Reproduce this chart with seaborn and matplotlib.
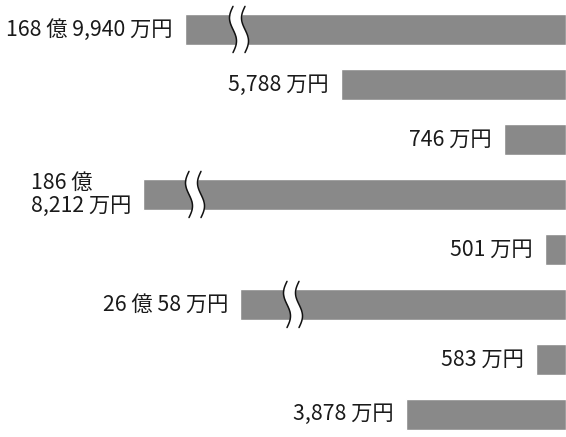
import numpy as np
import pandas as pd
import seaborn as sns
import matplotlib.pyplot as plt

# labels shown next to each bar (the bars are not drawn to scale)
labels = ["168 億 9,940 万円", "5,788 万円", "746 万円", "186 億\n8,212 万円",
          "501 万円", "26 億 58 万円", "583 万円", "3,878 万円"]
# drawn bar lengths (pixels, growing leftwards)
lengths = [381, 225, 62, 423, 21, 326, 30, 160]
# bars with a break mark: index and distance of the mark from the right end
breaks = [(0, 327), (3, 371), (5, 273)]

sns.set_theme(style="white")
plt.rcParams['font.family'] = ['Noto Sans CJK JP', 'DejaVu Sans']

df = pd.DataFrame({"label": labels, "length": lengths})
df["pos"] = range(len(df))

fig = plt.figure(figsize=(5.66, 4.37), dpi=100)
ax = fig.add_axes([0, 0, 1, 1])

sns.barplot(data=df, x="length", y="pos", orient="h", color="#898989",
            saturation=1, width=0.565, ax=ax)

ax.set_xlim(566, 0)
ax.set_ylim(7.41, -0.536)
ax.axis("off")

for i, row in df.iterrows():
    ax.text(row["length"] + 12, i, row["label"], ha="right", va="center",
            fontsize=15.3, color="#1a1a1a", multialignment="left",
            linespacing=1.05)

# wavy break marks
t = np.linspace(0, 1, 60)
for i, d in breaks:
    yy = i - 0.42 + 0.84 * t
    wave = 3.5 * np.sin(2 * np.pi * t)
    x1 = d + 6 + wave
    x2 = d - 6 + wave
    ax.fill_betweenx(yy, x2, x1, color="white", zorder=3, lw=0)
    ax.plot(x1, yy, color="#111111", lw=1.1, zorder=4)
    ax.plot(x2, yy, color="#111111", lw=1.1, zorder=4)

fig.savefig("out.png", dpi=100)
